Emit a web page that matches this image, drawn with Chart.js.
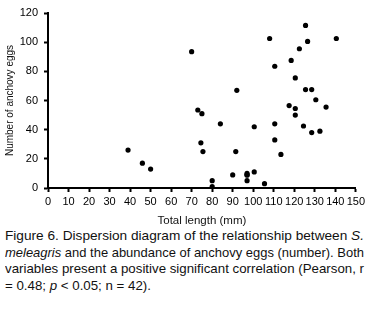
<!DOCTYPE html>
<html>
<head>
<meta charset="utf-8">
<script src="https://cdn.jsdelivr.net/npm/chart.js@4/dist/chart.umd.min.js"></script>
<style>
  html, body { margin: 0; padding: 0; background: #fff; overflow: hidden; }
  #wrap { position: absolute; left: 0; top: 0; width: 368px; height: 228px; }
  #caption {
    position: absolute; left: 4.5px; top: 228px; width: 359px;
    font-family: "Liberation Sans", Arial, sans-serif;
    font-size: 13.5px; line-height: 16.7px; color: #111;
  }
  #caption .ln { display: block; height: 16.7px; white-space: nowrap; }
  #caption .ln span { display: inline-block; white-space: nowrap; transform-origin: 0 0; }
</style>
</head>
<body>
<div id="wrap"><canvas id="c"></canvas></div>
<div id="caption">
  <div class="ln"><span>Figure 6. Dispersion diagram of the relationship between <i>S.</i></span></div>
  <div class="ln"><span><i>meleagris</i> and the abundance of anchovy eggs (number). Both</span></div>
  <div class="ln"><span>variables present a positive significant correlation (Pearson, r</span></div>
  <div class="ln"><span>= 0.48; <i>p</i> &lt; 0.05; n = 42).</span></div>
</div>
<script>
const lengthMm = [39, 46, 50, 70, 73, 75, 74.5, 75.5, 80, 80, 84, 90, 92, 91.5, 97, 97, 97, 97, 100.5, 100.5, 105.5,
                  108, 110.5, 110.5, 110.5, 113.5, 117.5, 118.5, 120.5, 120.5, 120.5, 122.5, 124.5, 125.5, 125.5,
                  126.5, 128.5, 128.5, 130.5, 132.5, 135.5, 140.5];
const eggCount = [26, 17, 13, 93.5, 53.5, 51, 31, 25, 5, 1, 44, 9, 67, 25, 10, 9, 9, 5, 11, 42, 3,
                  102.5, 83.5, 44, 33, 23, 56.5, 87.5, 75.5, 54.5, 50, 95.5, 42.5, 111.5, 67.5,
                  100.5, 67.5, 38, 60.5, 39, 55.5, 102.5];
const xTitle = "Total length (mm)";
const yTitle = "Number of anchovy eggs";

// fit caption lines horizontally (condensed, justified look)
(function () {
  const spans = Array.from(document.querySelectorAll('#caption .ln span'));
  const target = 359;
  let lastScale = 1;
  spans.forEach((sp, i) => {
    const w = sp.getBoundingClientRect().width;
    let s = target / w;
    if (i === spans.length - 1) s = lastScale; else lastScale = s;
    sp.style.transform = 'scaleX(' + s + ')';
  });
})();

const points = lengthMm.map((x, i) => ({ x: x, y: eggCount[i] }));

const tickFont = { family: "'Liberation Sans', Arial, sans-serif", size: 11 };
const titleFont = { family: "'Liberation Sans', Arial, sans-serif", size: 10 };

new Chart(document.getElementById('c'), {
  type: 'scatter',
  data: {
    datasets: [{
      data: points,
      backgroundColor: '#000',
      borderColor: '#000',
      pointRadius: 2.6,
      pointBorderWidth: 0
    }]
  },
  options: {
    responsive: true,
    maintainAspectRatio: false,
    animation: false,
    devicePixelRatio: 1,
    layout: { padding: { top: 13, right: 12, left: 0, bottom: 0 } },
    plugins: { legend: { display: false }, tooltip: { enabled: false } },
    scales: {
      x: {
        type: 'linear', min: 0, max: 150,
        ticks: { stepSize: 10, color: '#000', font: tickFont, padding: 3, maxRotation: 0, autoSkip: false },
        grid: { display: true, drawOnChartArea: false, drawTicks: true, tickLength: 4, tickColor: '#000', tickWidth: 2 },
        border: { color: '#000', width: 2 },
        title: { display: true, text: xTitle, color: '#111', font: { family: titleFont.family, size: 11.5 }, padding: { top: 0, bottom: 0 } },
        afterFit: (s) => { s.height = 40; }
      },
      y: {
        type: 'linear', min: 0, max: 120,
        ticks: { stepSize: 20, color: '#000', font: tickFont, padding: 6 },
        grid: { display: true, drawOnChartArea: false, drawTicks: true, tickLength: 4, tickColor: '#000', tickWidth: 2 },
        border: { color: '#000', width: 2 },
        title: { display: true, text: yTitle, color: '#111', font: titleFont, padding: { top: 4, bottom: 0 } },
        afterFit: (s) => { s.width = 48; }
      }
    }
  }
});
</script>
</body>
</html>
